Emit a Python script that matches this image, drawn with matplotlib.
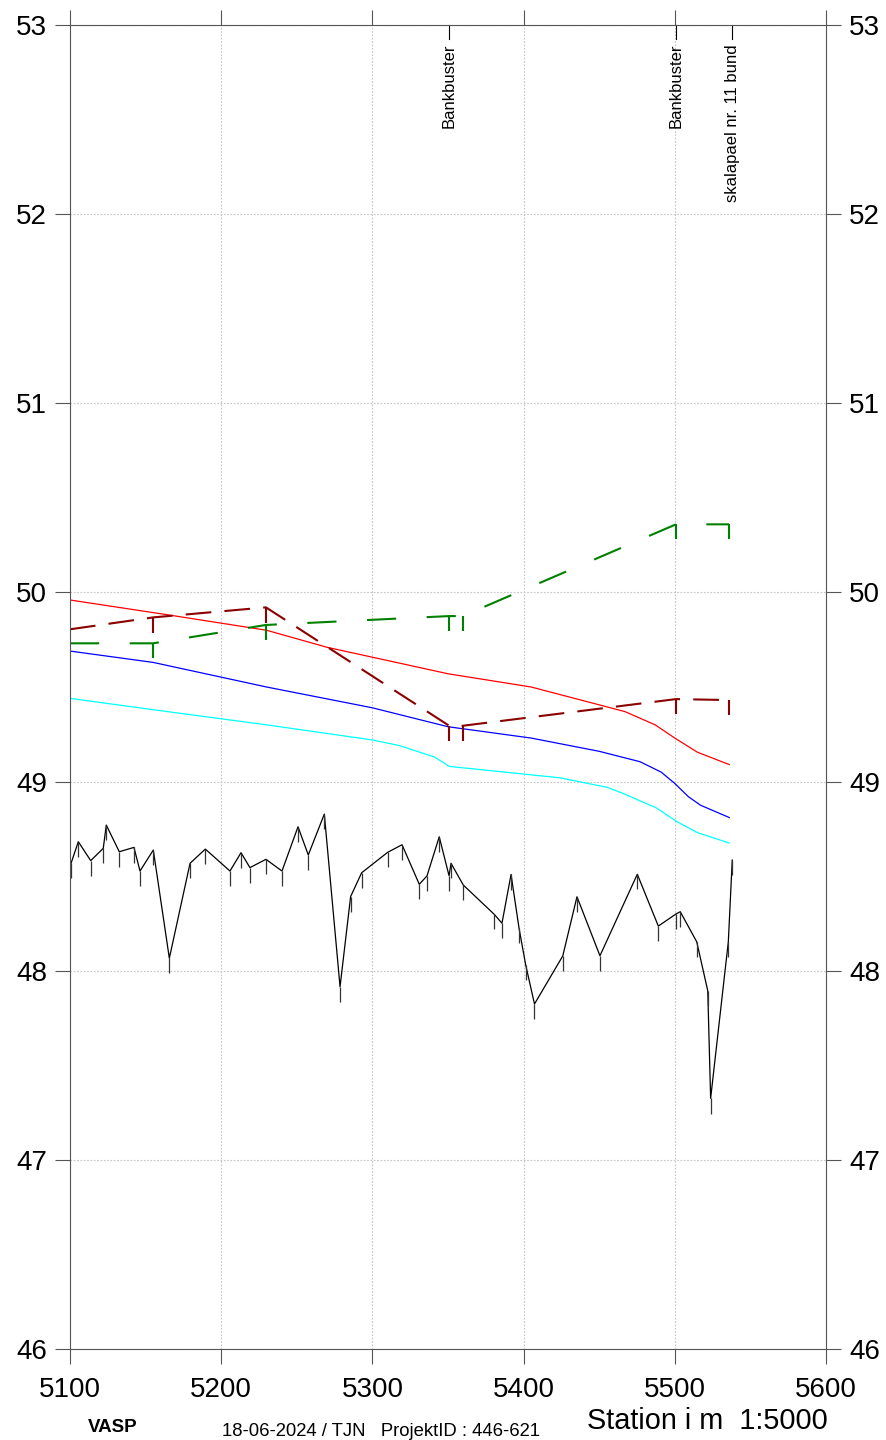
import matplotlib
matplotlib.use("Agg")
import matplotlib.pyplot as plt

plt.rcParams['font.family'] = ['Liberation Sans', 'DejaVu Sans']
plt.rcParams['lines.scale_dashes'] = False

# Terrain profile (station, elevation)
bed_station = [5100.7, 5105.5, 5113.7, 5122.0, 5124.0, 5132.6, 5142.3, 5146.3, 5155.1,
               5165.7, 5179.4, 5189.5, 5205.8, 5213.1, 5219.0, 5229.6, 5240.2, 5250.8,
               5257.6, 5268.2, 5278.6, 5285.6, 5292.9, 5310.1, 5319.6, 5331.0, 5336.1,
               5344.2, 5350.7, 5352.0, 5360.1, 5380.6, 5385.7, 5391.7, 5397.0, 5401.4,
               5407.2, 5425.9, 5435.3, 5450.5, 5475.2, 5489.1, 5500.8, 5503.6, 5514.5,
               5521.8, 5523.7, 5535.4, 5538.0]
bed_level = [48.568, 48.682, 48.582, 48.647, 48.770, 48.629, 48.652, 48.527, 48.638,
             48.066, 48.568, 48.643, 48.527, 48.624, 48.545, 48.589, 48.527, 48.761,
             48.612, 48.828, 47.915, 48.392, 48.518, 48.626, 48.666, 48.457, 48.501,
             48.708, 48.502, 48.568, 48.453, 48.298, 48.251, 48.509, 48.224, 48.030,
             47.824, 48.078, 48.391, 48.079, 48.510, 48.236, 48.300, 48.312, 48.153,
             47.894, 47.325, 48.153, 48.585]

# Water surface lines
red_station = [5100, 5166, 5230, 5270, 5350, 5405, 5467, 5487, 5500, 5515, 5536]
red_level = [49.96, 49.88, 49.80, 49.71, 49.57, 49.50, 49.37, 49.30, 49.23, 49.155, 49.09]

blue_station = [5100, 5155, 5230, 5300, 5350, 5405, 5450, 5477, 5491, 5500, 5509, 5517, 5536]
blue_level = [49.69, 49.63, 49.50, 49.39, 49.29, 49.23, 49.16, 49.105, 49.05, 48.99, 48.92, 48.875, 48.81]

cyan_station = [5100, 5155, 5230, 5300, 5318, 5341, 5351, 5424, 5455, 5465, 5488, 5501, 5515, 5536]
cyan_level = [49.44, 49.38, 49.30, 49.22, 49.19, 49.13, 49.08, 49.02, 48.97, 48.94, 48.86, 48.79, 48.73, 48.675]

# Bank lines (dashed)
bank_station = [5100, 5155, 5229.6, 5350.8, 5359.7, 5500.8, 5535.9]
left_bank = [49.805, 49.868, 49.921, 49.295, 49.295, 49.436, 49.431]
right_bank = [49.731, 49.731, 49.828, 49.875, 49.875, 50.360, 50.360]

# Structures marked along the top
marker_station = [5350.7, 5501.0, 5538.0]
marker_text = ["Bankbuster", "Bankbuster", "skalapael nr. 11 bund"]

x_ticks = [5100, 5200, 5300, 5400, 5500, 5600]
y_ticks = [46, 47, 48, 49, 50, 51, 52, 53]

W, H = 887, 1440
fig = plt.figure(figsize=(W / 100, H / 100), dpi=100)
ax = fig.add_axes([70 / W, 1 - 1349 / H, 756 / W, 1324 / H])

ax.set_xlim(5100, 5600)
ax.set_ylim(46, 53)
ax.set_xticks(x_ticks)
ax.set_yticks(y_ticks)
ax.grid(True, color='#c4c4c4', linestyle=(0, (1.2, 1.2)), linewidth=0.8)
ax.set_axisbelow(True)

tick_len = 0.08

# water surfaces
ax.plot(red_station, red_level, color='#ff0000', lw=0.9)
ax.plot(blue_station, blue_level, color='#0000ff', lw=0.9)
ax.plot(cyan_station, cyan_level, color='#00ffff', lw=0.9)

# banks
ax.plot(bank_station, left_bank, color='#8b0000', lw=1.5, dashes=(18.5, 9.5))
ax.vlines(bank_station[1:], [v - tick_len for v in left_bank[1:]], left_bank[1:],
          color='#8b0000', lw=1.5)
ax.plot(bank_station, right_bank, color='#008000', lw=1.5, dashes=(21, 22))
ax.vlines(bank_station[1:], [v - tick_len for v in right_bank[1:]], right_bank[1:],
          color='#008000', lw=1.5)

# terrain
ax.plot(bed_station, bed_level, color='black', lw=0.9)
ax.vlines(bed_station, [v - tick_len for v in bed_level], bed_level, color='#333333', lw=0.9)

# markers along the top
for s, t in zip(marker_station, marker_text):
    ax.plot([s, s], [53, 52.925], color='black', lw=0.8, clip_on=False)
    ax.text(s, 52.90, t, rotation=90, ha='center', va='top', fontsize=12)

for sp in ax.spines.values():
    sp.set_color('#555555')
    sp.set_linewidth(0.8)

ax.tick_params(axis='both', direction='out', length=10.5, width=0.8, color='#555555',
               labelsize=20, top=True, right=True, labelright=True)
ax.tick_params(axis='x', pad=10)
ax.tick_params(axis='y', pad=6)

fig.text(113 / W, 1 - 1428 / H, "VASP", fontsize=13.5, fontweight='bold', ha='center', va='center')
fig.text(222 / W, 1 - 1431 / H, "18-06-2024 / TJN   ProjektID : 446-621", fontsize=13.3,
         ha='left', va='center')
fig.text(587 / W, 1 - 1421 / H, "Station i m  1:5000", fontsize=20.8, ha='left', va='center')

fig.savefig("out.png", dpi=100)
